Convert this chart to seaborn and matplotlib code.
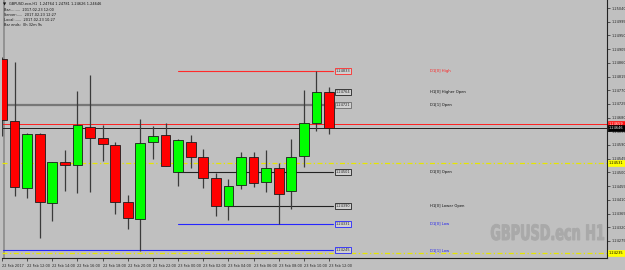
import matplotlib
matplotlib.use("Agg")
import matplotlib.pyplot as plt
import seaborn as sns
import numpy as np
import pandas as pd
from matplotlib import font_manager as fm
from matplotlib.textpath import TextPath
from matplotlib.patches import PathPatch
from matplotlib.transforms import Affine2D

sns.set_theme(style="white")
plt.rcParams['font.family'] = ['DejaVu Sans']

# ---------------- data ----------------
symbol = "GBPUSD.ecn,H1"
watermark = "GBPUSD.ecn H1"
bar_times = ["22 Feb 10:00", "22 Feb 11:00", "22 Feb 12:00", "22 Feb 13:00", "22 Feb 14:00",
             "22 Feb 15:00", "22 Feb 16:00", "22 Feb 17:00", "22 Feb 18:00", "22 Feb 19:00",
             "22 Feb 20:00", "22 Feb 21:00", "22 Feb 22:00", "22 Feb 23:00", "23 Feb 00:00",
             "23 Feb 01:00", "23 Feb 02:00", "23 Feb 03:00", "23 Feb 04:00", "23 Feb 05:00",
             "23 Feb 06:00", "23 Feb 07:00", "23 Feb 08:00", "23 Feb 09:00", "23 Feb 10:00",
             "23 Feb 11:00", "23 Feb 12:00"]
opens = [1.24872, 1.24669, 1.24449, 1.24626, 1.24399, 1.24534, 1.24524, 1.24649, 1.24613,
         1.24590, 1.24403, 1.24347, 1.24600, 1.24623, 1.24501, 1.24600, 1.24551, 1.24482,
         1.24390, 1.24459, 1.24551, 1.24469, 1.24514, 1.24439, 1.24554, 1.24662, 1.24764]
highs = [1.24879, 1.24863, 1.24629, 1.24629, 1.24534, 1.24574, 1.24767, 1.24820, 1.24656,
         1.24600, 1.24426, 1.24675, 1.24652, 1.24662, 1.24610, 1.24623, 1.24577, 1.24498,
         1.24478, 1.24567, 1.24567, 1.24574, 1.24531, 1.24610, 1.24771, 1.24833, 1.24781]
lows = [1.24620, 1.24422, 1.24416, 1.24285, 1.24340, 1.24439, 1.24432, 1.24436, 1.24537,
        1.24363, 1.24314, 1.24242, 1.24544, 1.24521, 1.24455, 1.24514, 1.24449, 1.24357,
        1.24344, 1.24446, 1.24452, 1.24436, 1.24331, 1.24380, 1.24518, 1.24636, 1.24626]
closes = [1.24672, 1.24452, 1.24626, 1.24403, 1.24534, 1.24524, 1.24656, 1.24613, 1.24593,
          1.24403, 1.24350, 1.24597, 1.24620, 1.24521, 1.24606, 1.24551, 1.24482, 1.24390,
          1.24455, 1.24551, 1.24465, 1.24514, 1.24429, 1.24551, 1.24662, 1.24764, 1.24646]

x_tick_labels = ["22 Feb 2017", "22 Feb 12:00", "22 Feb 14:00", "22 Feb 16:00", "22 Feb 18:00",
                 "22 Feb 20:00", "22 Feb 22:00", "23 Feb 00:00", "23 Feb 02:00", "23 Feb 04:00",
                 "23 Feb 06:00", "23 Feb 08:00", "23 Feb 10:00", "23 Feb 12:00"]

level_names = ["D1[0] High", "H1[0] Higher Open", "D1[1] Open", "D1[0] Open",
               "H1[0] Lower Open", "D1[0] Low", "D1[1] Low"]
level_values = [1.24833, 1.24764, 1.24721, 1.24501, 1.24390, 1.24331, 1.24245]
level_start_bar = [14, 26, None, 14, 18, 14, None]
level_colors = ["#ff2a2a", "#222222", "#6a6a6a", "#222222", "#222222", "#2626ff", "#2626ff"]
level_text_colors = ["#ff2020", "#111111", "#111111", "#111111", "#111111", "#2020ee", "#2020ee"]

ask_price = 1.24659
bid_price = closes[-1]
yellow_levels = [1.24531, 1.24235]

tick_top = 1.25040
tick_step = 0.00045

header_lines = ["Bar:........  2017.02.23 12:00",
                "Server:.....  2017.02.23 12:27",
                "Local:......  2017.02.23 10:27",
                "Bar ends:  0h 32m 9s"]

# ---------------- fonts ----------------
_names = {f.name for f in fm.fontManager.ttflist}
if "Liberation Sans Narrow" in _names:
    SMALL = "Liberation Sans Narrow"
    FS = 3.1
else:
    SMALL = "DejaVu Sans"
    FS = 2.5

# ---------------- layout ----------------
W, H = 625, 270
BG = "#c0c0c0"
px_per_tick = 13.7
k = tick_step / px_per_tick        # price per pixel
def price_at(ypx):
    return tick_top - (ypx - 8) * k

bar_px = 12.6
first_px = 1.0
ax_left_px, ax_right_px, ax_bottom_px = 2, 607, 258

fig = plt.figure(figsize=(W / 100, H / 100), dpi=100, facecolor=BG)
ax = fig.add_axes([ax_left_px / W, (H - ax_bottom_px) / H,
                   (ax_right_px - ax_left_px) / W, ax_bottom_px / H])
ax.set_facecolor(BG)

def unit(xpx):
    return (xpx - first_px) / bar_px

ax.set_xlim(unit(ax_left_px), unit(ax_right_px))
ax.set_ylim(price_at(ax_bottom_px), price_at(0))

df = pd.DataFrame({"time": bar_times, "open": opens, "high": highs,
                   "low": lows, "close": closes})
df["x"] = np.arange(len(df))
df["bull"] = df["close"] >= df["open"]

# watermark (condensed heavy, scaled to the reference box), behind everything
_wp = fm.FontProperties(family="DejaVu Sans", weight="bold")
tp = TextPath((0, 0), watermark, size=1, prop=_wp)
bb = tp.get_extents()
cap = TextPath((0, 0), "G", size=1, prop=_wp).get_extents()
sx = 113.0 / bb.width
sy = 16.0 / cap.height
tr = Affine2D().translate(-bb.x0, 0).scale(sx, sy).translate(491, H - 240)
wm = PathPatch(tp, transform=tr, fc="#a9a9a9", ec="#a9a9a9", lw=0.7, zorder=0.5)
ax.add_patch(wm)

# full-width lines (behind candles)
end_u = unit(333)
xspan = unit(ax_right_px) - unit(ax_left_px)
ax.axhline(level_values[2], color="#777777", lw=1.6, zorder=1,
           xmax=(end_u - unit(ax_left_px)) / xspan)
for yv in yellow_levels:
    ax.axhline(yv, color="#e6e600", lw=0.9, ls=(0, (4, 2, 1, 2)), zorder=1)
ax.axhline(ask_price, color="#ff2020", lw=0.7, zorder=1)
ax.axhline(bid_price, color="#202020", lw=0.7, zorder=1)

# level lines
for name, val, st, col in zip(level_names, level_values, level_start_bar, level_colors):
    if name == "D1[1] Open":
        continue
    x0 = unit(ax_left_px) if st is None else st
    ax.plot([x0, end_u], [val, val], color=col, lw=0.8, zorder=1)

# candles
ax.vlines(df["x"], df["low"], df["high"], color="#3a3a3a", lw=0.9, zorder=2)
body_bottom = np.minimum(df["open"], df["close"])
body_h = np.maximum(np.abs(df["close"] - df["open"]), 0.00003)
ax.bar(df["x"], body_h, bottom=body_bottom, width=0.78,
       color=np.where(df["bull"], "#00ff00", "#ff0000"),
       edgecolor="#1c1c1c", linewidth=0.6, zorder=3)

# price boxes next to levels and level names
box_u = unit(342.5)
name_u = unit(430)
for name, val, col, tcol in zip(level_names, level_values, level_colors, level_text_colors):
    ax.text(box_u, val, f"{val:.5f}", fontsize=FS, family=SMALL, color="#222222",
            ha="center", va="center", zorder=5,
            bbox=dict(boxstyle="square,pad=0.3", fc="#d0d0d0", ec=col, lw=0.6))
    ax.text(name_u, val, name, fontsize=FS + 0.2, family=SMALL, color=tcol,
            ha="left", va="center", zorder=5)

# axes styling
for s in ["top", "left"]:
    ax.spines[s].set_visible(False)
ax.spines["right"].set_color("#222222")
ax.spines["bottom"].set_color("#222222")
ax.spines["right"].set_linewidth(0.8)
ax.spines["bottom"].set_linewidth(0.8)
ax.axvline(unit(ax_left_px) + 0.05, color="#8a8a8a", lw=1.2, zorder=0.6)

# y ticks (right)
yt = [tick_top - i * tick_step for i in range(0, 19)]
ax.yaxis.tick_right()
ax.set_yticks(yt)
ax.set_yticklabels([f"{v:.5f}" for v in yt], family=SMALL)
ax.tick_params(axis="y", right=True, length=2, width=0.5, pad=1.2, labelsize=FS,
               colors="#222222")

# x ticks
xt = list(range(0, len(bar_times), 2))
ax.set_xticks(xt)
ax.set_xticklabels(x_tick_labels[:len(xt)], ha="left", family=SMALL)
ax.tick_params(axis="x", bottom=True, length=2.5, width=0.5, pad=1.5, labelsize=FS,
               colors="#222222")
ax.grid(False)

# price labels on the axis
def axis_label(val, fc, tc):
    ax.text(1 + 2 / 605, val, f"{val:.5f}", transform=ax.get_yaxis_transform(),
            fontsize=FS, family=SMALL, color=tc, ha="left", va="center", zorder=6,
            clip_on=False, bbox=dict(boxstyle="square,pad=0.3", fc=fc, ec=fc, lw=0.5))
axis_label(ask_price, "#ff1010", "white")
axis_label(bid_price, "#000000", "white")
for yv in yellow_levels:
    axis_label(yv, "#ffff00", "black")

# header
fig.text(9 / W, 1 - 4 / H,
         f"{symbol}  {opens[-1]:.5f} {highs[-1]:.5f} {lows[-1]:.5f} {closes[-1]:.5f}",
         fontsize=FS, family=SMALL, color="#111111", va="center", ha="left")
fig.text(3 / W, 1 - 4 / H, "▼", fontsize=3, color="#111111", va="center", ha="left")
for i, line in enumerate(header_lines):
    fig.text(4 / W, 1 - (10 + 5 * i) / H, line, fontsize=FS, family=SMALL,
             color="#111111", va="center", ha="left")

fig.savefig("out.png", dpi=100, facecolor=BG)
